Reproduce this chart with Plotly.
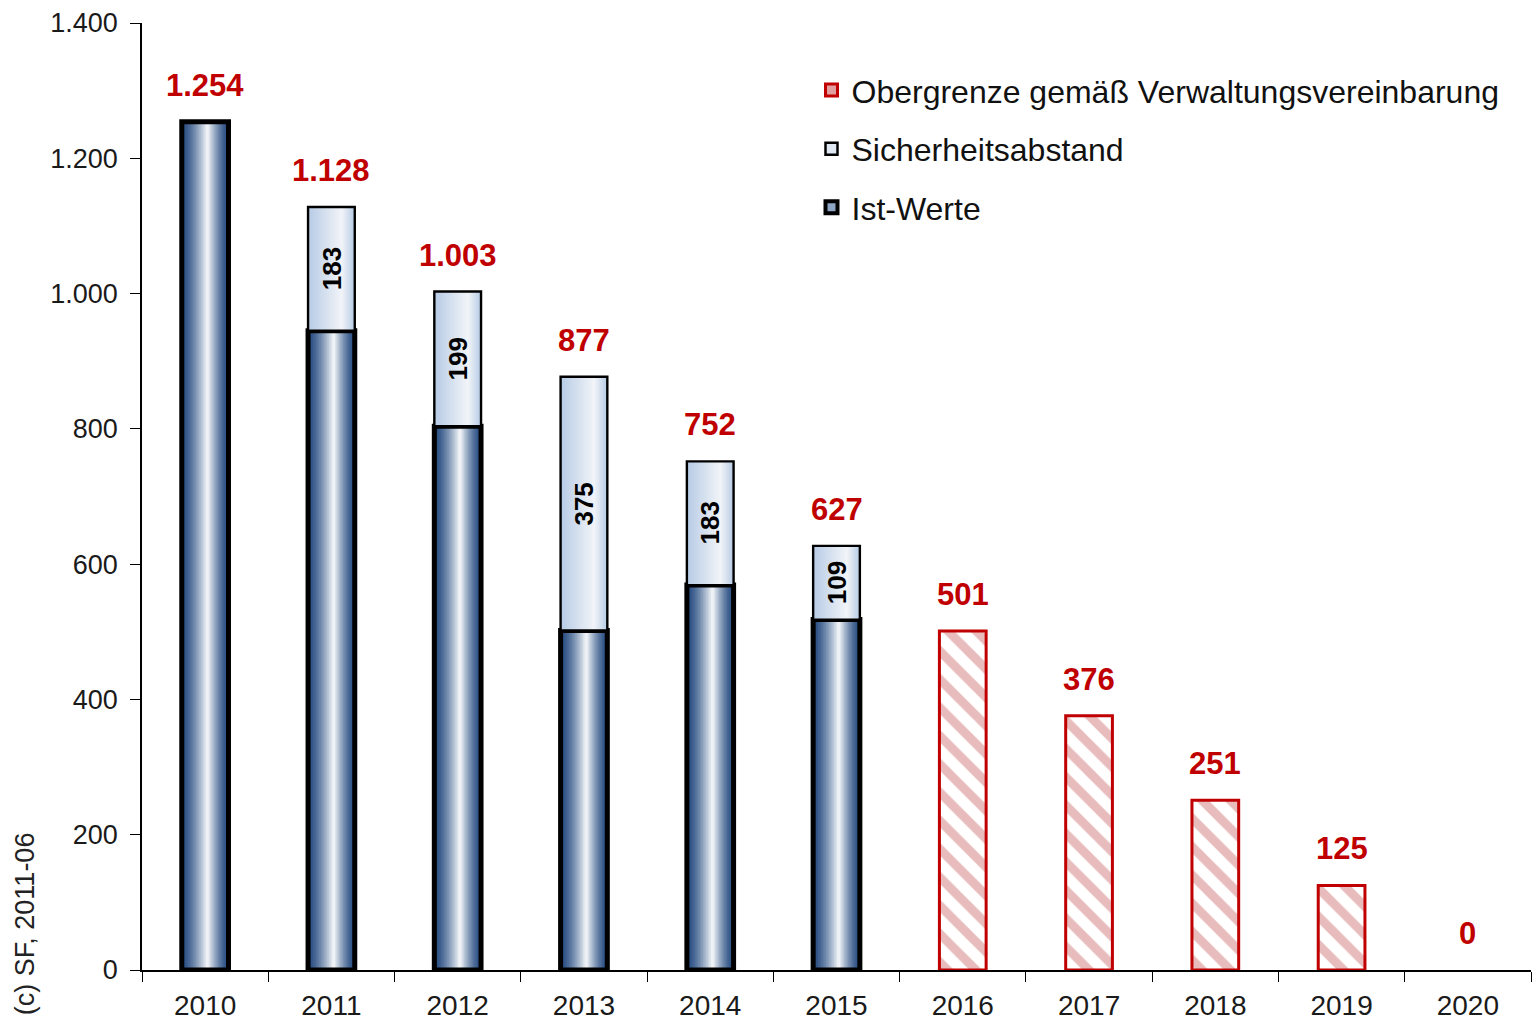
import plotly.graph_objects as go

# ---------------- data ----------------
years = ["2010", "2011", "2012", "2013", "2014", "2015",
         "2016", "2017", "2018", "2019", "2020"]
ist_werte = [1254, 945, 804, 502, 569, 518, None, None, None, None, None]
sicherheitsabstand = [None, 183, 199, 375, 183, 109, None, None, None, None, None]
obergrenze = [None, None, None, None, None, None, 501, 376, 251, 125, 0]
totals = [1254, 1128, 1003, 877, 752, 627, 501, 376, 251, 125, 0]
y_ticks = [0, 200, 400, 600, 800, 1000, 1200, 1400]

names = {
    "ober": "Obergrenze gemäß Verwaltungsvereinbarung",
    "sicher": "Sicherheitsabstand",
    "ist": "Ist-Werte",
}

FONT = "Liberation Sans, Arial, sans-serif"
RED = "#c00000"
BAR_W = 0.37
N_LEVELS = 16


def lerp(c1, c2, t):
    a = [int(c1[i:i + 2], 16) for i in (1, 3, 5)]
    b = [int(c2[i:i + 2], 16) for i in (1, 3, 5)]
    return "#" + "".join(f"{round(a[k] + (b[k] - a[k]) * t):02x}" for k in range(3))


fig = go.Figure()


def gradient_segment(xs, ys, bases, dark, light, highlight, gamma):
    for k in range(N_LEVELS):
        f = 1 - k / N_LEVELS
        t = (k / (N_LEVELS - 1)) ** gamma
        fig.add_trace(go.Bar(
            x=xs, y=ys, base=bases,
            width=BAR_W * f,
            offset=-BAR_W / 2 + BAR_W * highlight * (1 - f),
            marker=dict(color=lerp(dark, light, t), line=dict(width=0)),
            showlegend=False, hoverinfo="skip",
        ))


# Ist-Werte gradient
ist_x = [y for y, v in zip(years, ist_werte) if v is not None]
ist_y = [v for v in ist_werte if v is not None]
gradient_segment(ist_x, ist_y, [0] * len(ist_y), "#284d82", "#eef2f6", 0.55, 1.4)
fig.add_trace(go.Bar(
    x=ist_x, y=ist_y, width=BAR_W, offset=-BAR_W / 2,
    marker=dict(color="rgba(0,0,0,0)", line=dict(color="black", width=5)),
    showlegend=False, name=names["ist"], hoverinfo="skip",
))

# Sicherheitsabstand gradient
s_x = [y for y, v in zip(years, sicherheitsabstand) if v is not None]
s_y = [v for v in sicherheitsabstand if v is not None]
s_base = [ist_werte[years.index(y)] for y in s_x]
gradient_segment(s_x, s_y, s_base, "#b8cce6", "#f0f3f7", 0.72, 1.0)
fig.add_trace(go.Bar(
    x=s_x, y=s_y, base=s_base, width=BAR_W, offset=-BAR_W / 2,
    marker=dict(color="rgba(0,0,0,0)", line=dict(color="black", width=2.4)),
    showlegend=False, name=names["sicher"], hoverinfo="skip",
))

# Obergrenze (hatched)
o_x = [y for y, v in zip(years, obergrenze) if v]
o_y = [v for v in obergrenze if v]
fig.add_trace(go.Bar(
    x=o_x, y=o_y, width=BAR_W, offset=-BAR_W / 2,
    marker=dict(color="white", line=dict(color=RED, width=3),
                pattern=dict(shape="\\", fgcolor="#d27a7a", bgcolor="white",
                             size=20, solidity=0.45)),
    showlegend=False, name=names["ober"],
))

# legend-only entries
fig.add_trace(go.Bar(x=[years[0]], y=[None], name=names["ober"], legendgroup="a",
                     marker=dict(color="#e0a0a0", line=dict(color=RED, width=3))))
fig.add_trace(go.Bar(x=[years[0]], y=[None], name=names["sicher"], legendgroup="b",
                     marker=dict(color="#dfe7f2", line=dict(color="black", width=2.5))))
fig.add_trace(go.Bar(x=[years[0]], y=[None], name=names["ist"], legendgroup="c",
                     marker=dict(color="#8ea4c4", line=dict(color="black", width=4))))

annotations = []
for i, tot in enumerate(totals):
    annotations.append(dict(
        x=i, y=tot, xref="x", yref="y", text=f"<b>{tot:,}</b>".replace(",", "."),
        showarrow=False, yanchor="bottom", yshift=17,
        font=dict(family=FONT, size=31, color=RED),
    ))
for i, (base, v) in enumerate(zip(ist_werte, sicherheitsabstand)):
    if v is not None:
        annotations.append(dict(
            x=i, y=base + v / 2, xref="x", yref="y", text=f"<b>{v}</b>",
            showarrow=False, textangle=-90,
            font=dict(family=FONT, size=26, color="black"),
        ))
annotations.append(dict(
    x=-0.084, y=-0.05, xref="paper", yref="paper", text="(c) SF, 2011-06",
    showarrow=False, textangle=-90, xanchor="center", yanchor="bottom",
    font=dict(family=FONT, size=27, color="#222222"),
))

fig.update_layout(
    width=1535, height=1025,
    margin=dict(l=142, r=4, t=23, b=52),
    paper_bgcolor="white", plot_bgcolor="white",
    barmode="overlay",
    separators=",.",
    font=dict(family=FONT, size=26, color="#1a1a1a"),
    annotations=annotations,
    legend=dict(x=0.482, y=0.958, xanchor="left", yanchor="top",
                font=dict(family=FONT, size=32, color="#111111"),
                tracegroupgap=14, itemwidth=30, bgcolor="rgba(0,0,0,0)"),
    showlegend=True,
)
fig.update_xaxes(
    type="category", categoryorder="array", categoryarray=years,
    range=[-0.5, len(years) - 0.5], tickangle=0,
    showline=True, linecolor="black", linewidth=1.5,
    ticks="outside", tickson="boundaries", ticklen=10, tickcolor="black",
    ticklabelstandoff=10,
    showgrid=False, zeroline=False,
    tickfont=dict(family=FONT, size=28, color="#1a1a1a"),
)
fig.update_yaxes(
    range=[0, 1400], tickvals=y_ticks, tickformat=",d",
    showline=True, linecolor="black", linewidth=1.5,
    ticks="outside", ticklen=10, tickcolor="black",
    ticklabelstandoff=7,
    showgrid=False, zeroline=False,
    tickfont=dict(family=FONT, size=27, color="#1a1a1a"),
)

fig.write_html("out.html", config={"displayModeBar": False},
               post_script="document.body.style.margin='0';")
